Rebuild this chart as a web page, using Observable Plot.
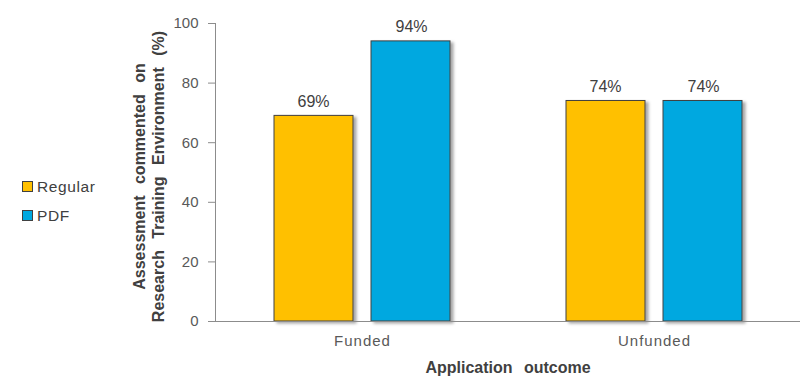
<!DOCTYPE html>
<html>
<head>
<meta charset="utf-8">
<script src="https://cdn.jsdelivr.net/npm/d3@7"></script>
<script src="https://cdn.jsdelivr.net/npm/@observablehq/plot@0.6"></script>
<style>
  html, body { margin: 0; padding: 0; background: #fff; }
  #wrap { position: relative; width: 811px; height: 380px; font-family: "Liberation Sans", Arial, sans-serif; }
  #legend { position: absolute; left: 22px; top: 172px; font-size: 15.5px; color: #404040; }
  .item { display: flex; align-items: center; height: 29px; letter-spacing: 0.6px; }
  .sw { width: 9px; height: 9px; border: 1px solid #404040; margin-right: 4px; }
</style>
</head>
<body>
<div id="wrap"></div>
<script>
const outcomes = ["Funded", "Unfunded"];
const series = ["Regular", "PDF"];
const seriesColors = ["#FFC000", "#00A8E0"];
const regularValues = [69, 74];
const pdfValues = [94, 74];
const yTicks = [0, 20, 40, 60, 80, 100];
const yTitle = "Assessment commented on\nResearch Training Environment (%)";
const xTitle = "Application outcome";

const data = outcomes.flatMap((o, i) => [
  {outcome: o, series: "Regular", value: regularValues[i]},
  {outcome: o, series: "PDF", value: pdfValues[i]}
]);
const reg = data.filter(d => d.series === "Regular");
const pdf = data.filter(d => d.series === "PDF");

const chart = Plot.plot({
  width: 811,
  height: 380,
  marginLeft: 215,
  marginRight: 11,
  marginTop: 23,
  marginBottom: 59,
  style: {fontFamily: "Liberation Sans, Arial, sans-serif", background: "#fff"},
  x: {domain: outcomes, paddingInner: 0.398, paddingOuter: 0.199, label: null},
  y: {domain: [0, 100], label: null},
  color: {domain: series, range: seriesColors},
  marks: [
    Plot.barY(reg, {x: "outcome", y: "value", fill: "series", stroke: "#404040", strokeWidth: 1, insetRight: 97}),
    Plot.barY(pdf, {x: "outcome", y: "value", fill: "series", stroke: "#404040", strokeWidth: 1, insetLeft: 97}),
    Plot.text(reg, {x: "outcome", y: "value", text: d => d.value + "%", dx: -49, dy: -9, lineAnchor: "bottom", fontSize: 16, fill: "#404040"}),
    Plot.text(pdf, {x: "outcome", y: "value", text: d => d.value + "%", dx: 49, dy: -9, lineAnchor: "bottom", fontSize: 16, fill: "#404040"}),
    Plot.ruleY([0], {stroke: "#8c8c8c", strokeWidth: 1}),
    Plot.frame({anchor: "left", stroke: "#8c8c8c", strokeWidth: 1}),
    Plot.axisY({ticks: yTicks, tickSize: 7, tickPadding: 10, fontSize: 15, color: "#595959", stroke: "#8c8c8c", label: null}),
    Plot.axisX({tickSize: 0, tickPadding: 14, fontSize: 15, color: "#595959", label: null}),
    Plot.text([yTitle], {frameAnchor: "left", rotate: -90, dx: -67, dy: 4, textAnchor: "middle", lineAnchor: "middle", lineHeight: 1.19, fontSize: 16, fontWeight: "bold", fill: "#404040", className: "ytitle"}),
    Plot.text([xTitle], {frameAnchor: "bottom", dy: 46, lineAnchor: "middle", fontSize: 16, fontWeight: "bold", fill: "#404040", className: "xtitle"})
  ]
});

// drop shadow on bars
const svg = d3.select(chart);
const defs = svg.insert("defs", ":first-child");
const f = defs.append("filter").attr("id", "barShadow").attr("x", "-10%").attr("y", "-10%").attr("width", "130%").attr("height", "130%");
f.append("feDropShadow").attr("dx", 3).attr("dy", 2).attr("stdDeviation", 1.6).attr("flood-color", "#000").attr("flood-opacity", 0.35);
svg.selectAll('g[aria-label="bar"]').attr("filter", "url(#barShadow)");
svg.selectAll(".ytitle text, .xtitle text").style("word-spacing", "7px");
svg.selectAll('g[aria-label="x-axis tick label"] text').style("letter-spacing", "1px");

const wrap = document.getElementById("wrap");
wrap.appendChild(chart);
const legend = document.createElement("div");
legend.id = "legend";
series.forEach((s, i) => {
  const it = document.createElement("div");
  it.className = "item";
  const sw = document.createElement("span");
  sw.className = "sw";
  sw.style.background = seriesColors[i];
  it.appendChild(sw);
  it.appendChild(document.createTextNode(s));
  legend.appendChild(it);
});
wrap.appendChild(legend);
</script>
</body>
</html>
